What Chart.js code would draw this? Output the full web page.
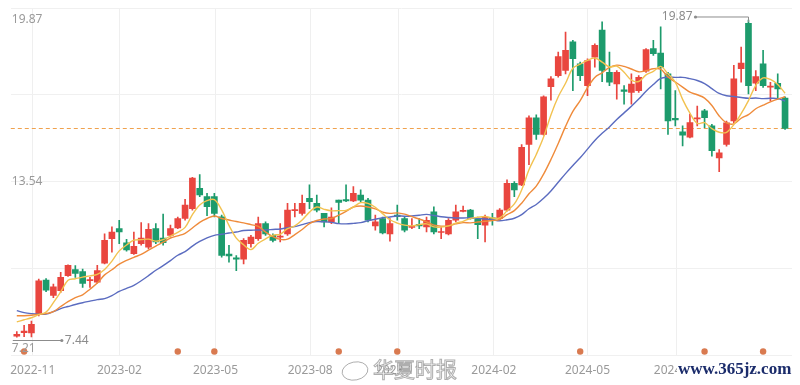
<!DOCTYPE html>
<html>
<head>
<meta charset="utf-8">
<script src="https://cdn.jsdelivr.net/npm/chart.js@4.4.1/dist/chart.umd.min.js"></script>
<style>
  html, body { margin: 0; padding: 0; background: #fff; }
  #wrap { width: 800px; height: 385px; }
</style>
</head>
<body>
<div id="wrap"><canvas id="kline" width="800" height="385"></canvas></div>
<script>
// Velas semanales (índice = semana)
const opens = [
  7.48, 7.62, 7.61, 8.33, 9.68, 9.08, 9.26, 9.85, 10.09, 10.01,
  9.65, 9.59, 10.34, 11.30, 11.69, 11.14, 10.71, 11.10, 10.97, 11.69,
  11.32, 11.43, 11.72, 12.09, 12.48, 13.27, 12.95, 12.95, 12.16, 10.70,
  10.55, 10.50, 11.10, 11.30, 11.89, 11.43, 11.36, 11.49, 12.40, 12.29,
  12.88, 12.68, 12.29, 11.96, 12.81, 12.83, 12.78, 13.01, 12.81, 11.80,
  12.09, 11.49, 12.22, 12.09, 11.74, 11.86, 11.76, 12.35, 11.54, 11.49,
  12.02, 12.37, 12.42, 12.09, 11.83, 12.12, 12.09, 12.42, 13.47, 13.41,
  14.99, 16.04, 15.39, 17.26, 17.69, 17.89, 19.01, 18.15, 17.30, 18.41,
  19.47, 17.82, 17.36, 17.13, 17.03, 17.10, 17.86, 18.75, 18.57, 17.76,
  16.02, 15.49, 15.28, 15.99, 16.31, 15.72, 14.46, 14.99, 15.91, 17.96,
  19.74, 17.39, 18.15, 17.24, 17.39, 16.81
];
const highs = [
  7.66, 7.90, 8.07, 9.72, 9.74, 9.52, 9.98, 10.27, 10.24, 10.11,
  9.78, 10.25, 11.49, 11.76, 12.02, 11.27, 11.56, 11.93, 11.89, 11.89,
  12.26, 11.83, 12.15, 12.84, 13.70, 13.81, 13.08, 13.08, 12.22, 11.04,
  10.64, 11.30, 11.43, 12.15, 11.96, 11.49, 11.89, 12.68, 12.68, 13.01,
  13.41, 13.01, 12.29, 12.51, 12.81, 13.41, 13.34, 13.21, 12.88, 12.22,
  12.15, 12.09, 12.62, 12.15, 12.09, 12.09, 12.15, 12.55, 11.76, 12.09,
  12.62, 12.58, 12.45, 12.15, 12.22, 12.29, 12.48, 13.61, 13.54, 14.99,
  16.11, 16.15, 16.90, 17.65, 18.61, 19.40, 19.07, 18.22, 18.35, 18.94,
  19.80, 18.61, 17.89, 17.30, 17.76, 17.69, 18.75, 19.07, 19.60, 17.82,
  17.10, 15.72, 16.18, 16.50, 16.37, 15.78, 14.79, 15.91, 18.09, 18.81,
  19.87, 17.89, 18.68, 17.43, 17.76, 16.86
];
const lows = [
  7.44, 7.46, 7.45, 8.27, 9.22, 8.99, 9.19, 9.82, 9.78, 9.39,
  9.39, 9.56, 10.31, 10.77, 11.10, 10.81, 10.68, 11.04, 10.90, 11.10,
  11.04, 11.36, 11.69, 12.02, 12.42, 12.95, 12.20, 12.15, 10.57, 10.38,
  10.05, 10.31, 10.97, 11.23, 11.43, 11.17, 11.17, 11.43, 12.15, 12.22,
  12.48, 12.35, 11.76, 11.89, 11.89, 12.75, 12.75, 12.75, 11.96, 11.63,
  11.49, 11.20, 12.02, 11.56, 11.69, 11.69, 11.56, 11.49, 11.30, 11.45,
  11.96, 12.35, 12.06, 11.30, 11.17, 11.83, 12.02, 12.38, 12.95, 13.38,
  14.20, 15.19, 15.36, 16.73, 17.63, 17.76, 17.10, 17.49, 16.90, 18.02,
  17.45, 17.30, 16.77, 16.57, 16.57, 17.03, 17.82, 18.48, 17.17, 15.39,
  15.72, 14.93, 15.25, 15.72, 15.65, 14.53, 13.93, 14.92, 15.84, 17.43,
  16.97, 17.10, 17.23, 16.70, 16.77, 15.58
];
const closes = [
  7.55, 7.68, 7.94, 9.65, 9.28, 9.41, 9.78, 10.25, 9.94, 9.55,
  9.70, 10.05, 11.23, 11.56, 11.56, 10.86, 11.00, 11.32, 11.67, 11.17,
  11.14, 11.69, 12.09, 12.62, 13.67, 13.01, 12.55, 12.29, 10.64, 10.62,
  10.50, 11.23, 11.36, 11.89, 11.49, 11.23, 11.40, 12.42, 12.44, 12.68,
  12.75, 12.42, 11.96, 12.15, 12.72, 12.78, 13.08, 12.81, 12.02, 11.96,
  11.52, 11.89, 12.16, 11.63, 11.78, 11.80, 12.02, 11.56, 11.58, 12.02,
  12.35, 12.40, 12.09, 11.85, 12.15, 12.06, 12.42, 13.47, 13.21, 14.88,
  16.04, 15.39, 16.86, 17.56, 18.44, 18.68, 18.35, 17.69, 18.28, 18.88,
  17.89, 17.43, 17.82, 17.07, 17.36, 17.62, 18.71, 18.55, 18.02, 15.91,
  15.95, 15.36, 15.85, 16.04, 16.04, 14.75, 14.66, 15.84, 17.56, 18.18,
  17.30, 17.65, 17.30, 17.28, 17.17, 15.62
];

// Medias móviles (amarilla, naranja, azul)
const ma5 = [
  8.04, 8.12, 8.20, 8.32, 8.42, 8.79, 9.21, 9.67, 9.73, 9.79,
  9.84, 9.90, 10.09, 10.42, 10.82, 11.05, 11.24, 11.26, 11.28, 11.20,
  11.26, 11.40, 11.55, 11.74, 12.24, 12.62, 12.79, 12.83, 12.43, 11.82,
  11.32, 11.06, 10.87, 11.12, 11.29, 11.44, 11.47, 11.69, 11.80, 12.03,
  12.34, 12.54, 12.45, 12.39, 12.40, 12.41, 12.54, 12.71, 12.68, 12.53,
  12.28, 12.04, 11.91, 11.83, 11.80, 11.85, 11.88, 11.76, 11.75, 11.80,
  11.91, 11.98, 12.09, 12.14, 12.17, 12.11, 12.11, 12.39, 12.66, 13.21,
  14.00, 14.60, 15.28, 16.15, 16.86, 17.39, 17.98, 18.14, 18.29, 18.38,
  18.22, 18.03, 18.06, 17.82, 17.51, 17.46, 17.72, 17.86, 18.05, 17.76,
  17.43, 16.76, 16.22, 15.82, 15.85, 15.61, 15.47, 15.47, 15.77, 16.20,
  16.71, 17.31, 17.60, 17.54, 17.34, 17.00
];
const ma10 = [
  8.28, 8.28, 8.30, 8.34, 8.36, 8.44, 8.64, 8.83, 8.99, 9.10,
  9.32, 9.56, 9.88, 10.08, 10.30, 10.45, 10.57, 10.68, 10.85, 11.01,
  11.16, 11.32, 11.41, 11.51, 11.72, 11.94, 12.09, 12.19, 12.09, 12.03,
  11.97, 11.92, 11.85, 11.78, 11.56, 11.38, 11.27, 11.28, 11.46, 11.66,
  11.89, 12.01, 12.07, 12.09, 12.22, 12.37, 12.54, 12.58, 12.54, 12.47,
  12.34, 12.29, 12.31, 12.26, 12.16, 12.07, 11.96, 11.83, 11.79, 11.80,
  11.88, 11.93, 11.92, 11.95, 11.98, 12.01, 12.05, 12.24, 12.40, 12.69,
  13.06, 13.36, 13.83, 14.40, 15.03, 15.70, 16.29, 16.71, 17.22, 17.62,
  17.80, 18.01, 18.10, 18.05, 17.95, 17.84, 17.88, 17.96, 17.94, 17.64,
  17.44, 17.24, 17.04, 16.94, 16.81, 16.52, 16.11, 15.84, 15.80, 16.02,
  16.16, 16.39, 16.53, 16.66, 16.77, 16.86
];
const ma20 = [
  8.48, 8.40, 8.36, 8.34, 8.34, 8.44, 8.56, 8.64, 8.72, 8.79,
  8.85, 8.91, 8.95, 9.07, 9.23, 9.35, 9.47, 9.65, 9.85, 10.06,
  10.24, 10.44, 10.65, 10.79, 11.01, 11.19, 11.33, 11.43, 11.47, 11.52,
  11.56, 11.62, 11.63, 11.64, 11.64, 11.66, 11.68, 11.73, 11.77, 11.85,
  11.93, 11.97, 11.96, 11.94, 11.89, 11.88, 11.90, 11.93, 12.00, 12.06,
  12.12, 12.15, 12.19, 12.18, 12.19, 12.22, 12.25, 12.21, 12.16, 12.13,
  12.11, 12.11, 12.12, 12.10, 12.07, 12.04, 12.00, 12.04, 12.10, 12.24,
  12.47, 12.64, 12.88, 13.17, 13.51, 13.85, 14.17, 14.47, 14.81, 15.15,
  15.43, 15.68, 15.97, 16.23, 16.49, 16.77, 17.08, 17.34, 17.58, 17.63,
  17.62, 17.62, 17.57, 17.50, 17.38, 17.18, 16.99, 16.90, 16.87, 16.83,
  16.80, 16.81, 16.79, 16.80, 16.79, 16.69
];

// Etiquetas del eje X (semana donde cae cada mes)
const monthLabels = ['2022-11', '2023-02', '2023-05', '2023-08', '2023-11', '2024-02', '2024-05', '2024-08'];
const monthTickAt = [2.18, 14.03, 27.16, 40.1, 52.16, 65.2, 78.0, 90.15];

// Etiquetas del eje Y y marcadores de eventos (semanas)
const yLabelValues = [19.87, 13.54, 7.21];
const eventAt = [1, 22, 27, 44, 52, 77, 94, 102];

const ROJO = '#e9463f';
const VERDE = '#1d9b6c';
const FUENTE = '"Noto Sans", "Liberation Sans", sans-serif';

const colores = closes.map((c, i) => c >= opens[i] ? ROJO : VERDE);

const overlay = {
    id: 'overlay',
    beforeDatasetsDraw(chart) {
        const { ctx, chartArea, scales: { y } } = chart;
        // Línea del último cierre
        const yy = Math.round(y.getPixelForValue(closes[closes.length - 1])) + 0.5;
        ctx.save();
        ctx.strokeStyle = '#f0a24e';
        ctx.lineWidth = 1;
        ctx.setLineDash([4, 3]);
        ctx.beginPath();
        ctx.moveTo(chartArea.left, yy);
        ctx.lineTo(chartArea.right, yy);
        ctx.stroke();
        ctx.restore();
    },
    afterDraw(chart) {
        const { ctx, chartArea, scales: { x, y } } = chart;
        ctx.save();
        ctx.font = '12px ' + FUENTE;
        ctx.fillStyle = '#9a9a9a';
        ctx.textBaseline = 'middle';
        ctx.textAlign = 'left';
        yLabelValues.forEach((v, k) => {
            const off = k === yLabelValues.length - 1 ? 6 : 0;
            ctx.fillText(v.toFixed(2), chartArea.left + 1, y.getPixelForValue(v) + off);
        });

        // Máximo
        const hi = Math.max(...highs);
        const iHi = highs.indexOf(hi);
        const hx = Math.round(x.getPixelForValue(iHi)) + 0.5;
        const hy = y.getPixelForValue(hi);
        ctx.strokeStyle = '#8c8c8c';
        ctx.fillStyle = '#8c8c8c';
        ctx.lineWidth = 1;
        ctx.beginPath();
        ctx.moveTo(hx, hy + 2);
        ctx.lineTo(hx, hy - 3);
        ctx.lineTo(hx - 53, hy - 3);
        ctx.stroke();
        ctx.beginPath();
        ctx.arc(hx - 53, hy - 3, 1.6, 0, Math.PI * 2);
        ctx.fill();
        ctx.textAlign = 'right';
        ctx.fillText(hi.toFixed(2), hx - 56, hy - 3);

        // Mínimo
        const lo = Math.min(...lows);
        const iLo = lows.indexOf(lo);
        const lx = x.getPixelForValue(iLo);
        const ly = Math.round(y.getPixelForValue(lo)) + 3.5;
        ctx.beginPath();
        ctx.moveTo(chartArea.left + 2, ly);
        ctx.lineTo(lx + 45, ly);
        ctx.stroke();
        ctx.beginPath();
        ctx.arc(lx + 45, ly, 1.6, 0, Math.PI * 2);
        ctx.fill();
        ctx.textAlign = 'left';
        ctx.fillText(lo.toFixed(2), lx + 48, ly);

        // Marcas de agua
        ctx.textAlign = 'left';
        ctx.textBaseline = 'middle';
        ctx.font = '21px "Noto Sans CJK SC", sans-serif';
        ctx.fillStyle = 'rgba(255,255,255,0.92)';
        ctx.strokeStyle = 'rgba(130,130,130,0.65)';
        ctx.lineWidth = 1;
        ctx.fillText('华夏时报', 373, 369);
        ctx.strokeText('华夏时报', 373, 369);
        ctx.beginPath();
        ctx.ellipse(355, 371, 13, 9, -0.2, 0, Math.PI * 2);
        ctx.fillStyle = 'rgba(255,255,255,0.9)';
        ctx.fill();
        ctx.stroke();
        ctx.fillStyle = '#ffffff';
        ctx.fillRect(677, 360, 120, 20);
        ctx.font = 'bold 17px "Liberation Serif", serif';
        ctx.fillStyle = '#1b2c6b';
        ctx.fillText('www.365jz.com', 678, 370);
        ctx.restore();
    }
};

new Chart(document.getElementById('kline'), {
    type: 'bar',
    data: {
        datasets: [
            {
                type: 'line',
                label: 'MA5',
                data: ma5.map((v, i) => ({ x: i, y: v })),
                borderColor: '#f2c250',
                borderWidth: 1.4,
                pointRadius: 0,
                tension: 0.35,
                order: 0
            },
            {
                type: 'line',
                label: 'MA10',
                data: ma10.map((v, i) => ({ x: i, y: v })),
                borderColor: '#ef8b3b',
                borderWidth: 1.4,
                pointRadius: 0,
                tension: 0.35,
                order: 0
            },
            {
                type: 'line',
                label: 'MA20',
                data: ma20.map((v, i) => ({ x: i, y: v })),
                borderColor: '#5b6cc0',
                borderWidth: 1.4,
                pointRadius: 0,
                tension: 0.35,
                order: 0
            },
            {
                label: 'cuerpo',
                data: opens.map((o, i) => ({ x: i, y: [Math.min(o, closes[i]), Math.max(o, closes[i])] })),
                backgroundColor: colores,
                barThickness: 6,
                minBarLength: 1,
                grouped: false,
                order: 1
            },
            {
                label: 'mecha',
                data: highs.map((h, i) => ({ x: i, y: [lows[i], h] })),
                backgroundColor: colores,
                barThickness: 1,
                grouped: false,
                order: 2
            },
            {
                type: 'scatter',
                label: 'eventos',
                yAxisID: 'ev',
                data: eventAt.map(i => ({ x: i, y: 1 })),
                backgroundColor: '#d97a50',
                borderWidth: 0,
                pointRadius: 3.2,
                order: 0
            }
        ]
    },
    options: {
        responsive: false,
        animation: false,
        devicePixelRatio: 1,
        layout: { padding: { left: 8, right: 8, top: 8, bottom: -2 } },
        plugins: {
            legend: { display: false },
            tooltip: { enabled: false }
        },
        scales: {
            x: {
                type: 'linear',
                min: -0.82,
                max: 105.95,
                offset: false,
                afterBuildTicks: axis => { axis.ticks = monthTickAt.map(v => ({ value: v })); },
                ticks: {
                    callback: (v, idx) => monthLabels[idx],
                    color: '#9a9a9a',
                    font: { size: 12, family: FUENTE, lineHeight: 1 },
                    padding: 10,
                    maxRotation: 0,
                    autoSkip: false
                },
                grid: { color: '#efefef', drawTicks: false, offset: false },
                border: { display: false }
            },
            y: {
                min: 6.74,
                max: 20.34,
                afterBuildTicks: axis => {
                    const paso = (axis.max - axis.min) / 4;
                    axis.ticks = [0, 1, 2, 3, 4].map(k => ({ value: axis.min + k * paso }));
                },
                ticks: { display: false },
                grid: { color: '#f0f0f0', drawTicks: false },
                border: { display: false }
            },
            ev: {
                display: false,
                min: 0,
                max: 100
            }
        }
    },
    plugins: [overlay]
});
</script>
</body>
</html>
